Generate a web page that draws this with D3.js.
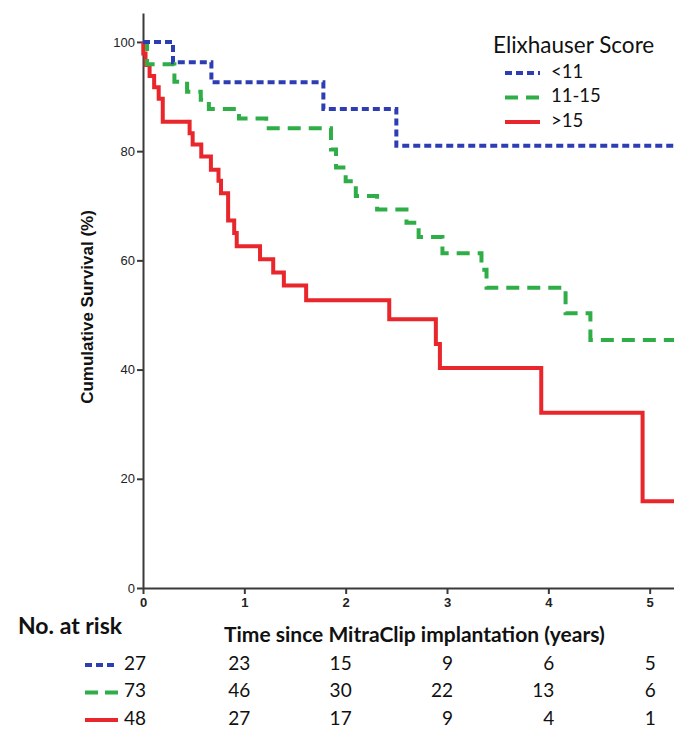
<!DOCTYPE html>
<html><head><meta charset="utf-8">
<script src="https://cdn.jsdelivr.net/npm/d3@7"></script>
<style>html,body{margin:0;padding:0;background:#fff;}</style>
</head><body>
<script>
// ---- data ----
const groups = ["<11", "11-15", ">15"];
const legendTitle = "Elixhauser Score";
// step points: [time (years), cumulative survival % after the event]
const blueSteps = [[0,100],[0.296,96.3],[0.675,92.6],[1.78,87.7],[2.5,81.0]];
const greenSteps = [[0,100],[0.04,95.9],[0.31,92.7],[0.435,90.9],[0.57,89.4],[0.65,87.7],[0.947,86.0],[1.216,84.2],
  [1.855,80.3],[1.905,77.0],[2.0,74.5],[2.1,71.8],[2.31,69.3],[2.6,66.9],[2.72,64.3],[2.955,61.3],[3.34,58.3],[3.39,55.0],[4.17,50.3],[4.415,45.4]];
const redSteps = [[0,100],[0.003,97.9],[0.025,95.8],[0.065,93.75],[0.11,91.7],[0.155,89.6],[0.195,85.4],[0.46,83.3],[0.49,81.2],
  [0.575,79.0],[0.67,76.6],[0.745,74.6],[0.77,72.3],[0.84,67.3],[0.9,65.0],[0.925,62.6],[1.155,60.2],[1.285,57.8],[1.39,55.4],
  [1.61,52.7],[2.43,49.2],[2.89,44.7],[2.93,40.3],[3.93,32.1],[4.93,15.9]];
const xTicks = [0,1,2,3,4,5];
const yTicks = [0,20,40,60,80,100];
const atRiskTimes = [0,1,2,3,4,5];
const atRiskBlue = [27,23,15,9,6,5];
const atRiskGreen = [73,46,30,22,13,6];
const atRiskRed = [48,27,17,9,4,1];
const xTitle = "Time since MitraClip implantation (years)";
const yTitle = "Cumulative Survival (%)";
const atRiskTitle = "No. at risk";

// ---- styles ----
const colors = ["#2d3db2", "#2fae48", "#e8262b"];
const dashes = ["7,4", "13,8", null];
const W = 674, H = 732;
const tMax = 5.24;

const svg = d3.select("body").append("svg").attr("width", W).attr("height", H)
  .style("font-family", "'Liberation Sans', Arial, sans-serif");

const x = d3.scaleLinear().domain([0, tMax]).range([143, 674]);
const y = d3.scaleLinear().domain([0, 105.3]).range([588, 13]);

// axes
const axisColor = "#3a3a3a";
const yAxis = svg.append("g").attr("transform", `translate(${x(0)},0)`)
  .call(d3.axisLeft(y).tickValues(yTicks).tickSize(6).tickSizeOuter(0).tickFormat(d3.format("d")));
const xAxis = svg.append("g").attr("transform", `translate(0,${y(0)})`)
  .call(d3.axisBottom(x).tickValues(xTicks).tickSize(6).tickSizeOuter(0).tickFormat(d3.format("d")));
[yAxis, xAxis].forEach(g => {
  g.select(".domain").attr("stroke", axisColor).attr("stroke-width", 2);
  g.selectAll(".tick line").attr("stroke", axisColor).attr("stroke-width", 2);
  g.selectAll(".tick text").attr("fill", "#222").style("font-size", "13px");
});
yAxis.selectAll(".tick text").attr("x", -8);
xAxis.selectAll(".tick text").attr("y", 10).style("font-weight", "bold");

// curves
const line = d3.line().x(d => x(d[0])).y(d => y(d[1])).curve(d3.curveStepAfter);
const allSteps = [blueSteps, greenSteps, redSteps];
const order = [2, 1, 0];
order.forEach(i => {
  const s = allSteps[i];
  const pts = s.concat([[tMax, s[s.length - 1][1]]]);
  svg.append("path").datum(pts).attr("d", line).attr("fill", "none")
    .attr("stroke", colors[i]).attr("stroke-width", 4)
    .attr("stroke-dasharray", dashes[i]).attr("stroke-linejoin", "miter");
});

// axis titles
svg.append("text").attr("transform", `translate(89,${(y(0)+y(100))/2 - 8}) rotate(-90)`)
  .attr("text-anchor", "middle").attr("dominant-baseline", "middle")
  .style("font-weight", "bold").style("font-size", "17px").attr("fill", "#111").text(yTitle);

// legend
const lg = svg.append("g").style("font-family", "Lato, 'Open Sans', sans-serif");
lg.append("text").attr("x", 493).attr("y", 47).attr("dominant-baseline", "middle")
  .style("font-size", "22.5px").attr("fill", "#111").text(legendTitle);
groups.forEach((g, i) => {
  const yy = 73 + i * 24.5;
  lg.append("line").attr("x1", 505).attr("x2", 540).attr("y1", yy).attr("y2", yy)
    .attr("stroke", colors[i]).attr("stroke-width", 4).attr("stroke-dasharray", dashes[i]);
  lg.append("text").attr("x", 551).attr("y", yy).attr("dominant-baseline", "middle")
    .style("font-size", "18.5px").attr("fill", "#111").text(g);
});

// at-risk table
const tb = svg.append("g").style("font-family", "Lato, 'Open Sans', sans-serif").attr("fill", "#111");
tb.append("text").attr("x", 18).attr("y", 628).attr("dominant-baseline", "middle")
  .style("font-size", "23px").style("font-weight", "bold").text(atRiskTitle);
tb.append("text").attr("x", 224).attr("y", 637).attr("dominant-baseline", "middle")
  .style("font-size", "21px").style("font-weight", "bold").text(xTitle);
const rows = [atRiskBlue, atRiskGreen, atRiskRed];
rows.forEach((r, i) => {
  const yy = 665 + i * 27.5;
  tb.append("line").attr("x1", 85).attr("x2", 118).attr("y1", yy).attr("y2", yy)
    .attr("stroke", colors[i]).attr("stroke-width", 4).attr("stroke-dasharray", dashes[i] ? (i===0 ? "7,4" : "13,7") : null);
  r.forEach((v, j) => {
    tb.append("text").attr("x", x(atRiskTimes[j]) + (j === 0 ? 3 : 6)).attr("y", yy)
      .attr("text-anchor", "end").attr("dominant-baseline", "middle")
      .style("font-size", "19px").text(v);
  });
});
</script>
</body></html>
